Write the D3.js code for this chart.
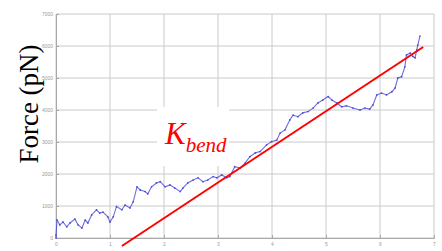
<!DOCTYPE html>
<html>
<head>
<meta charset="utf-8">
<script src="https://cdn.jsdelivr.net/npm/d3@7"></script>
<style>
  body { margin: 0; background: #fff; }
  svg { display: block; }
</style>
</head>
<body>
<div id="chart"></div>
<script>
// Measured trace: time-like x (0..7) and force in pN
var traceX = [0.00, 0.00, 0.02, 0.07, 0.13, 0.20, 0.26, 0.35, 0.41, 0.48, 0.54, 0.59, 0.66, 0.75, 0.81, 0.87, 0.96, 1.00, 1.06, 1.12,
  1.22, 1.28, 1.37, 1.43, 1.50, 1.56, 1.65, 1.70, 1.77, 1.86, 1.93, 2.02, 2.11, 2.20, 2.30, 2.35, 2.44, 2.54, 2.63, 2.72,
  2.81, 2.91, 2.98, 3.07, 3.16, 3.22, 3.31, 3.41, 3.50, 3.59, 3.69, 3.78, 3.90, 3.99, 4.09, 4.15, 4.24, 4.33, 4.39, 4.48,
  4.57, 4.67, 4.76, 4.85, 4.94, 5.04, 5.11, 5.20, 5.29, 5.38, 5.50, 5.63, 5.72, 5.81, 5.87, 5.94, 6.03, 6.12, 6.22, 6.28,
  6.33, 6.40, 6.46, 6.49, 6.56, 6.61, 6.65, 6.68, 6.70, 6.74];
var traceForce = [0, 90, 560, 410, 500, 350, 470, 590, 410, 310, 560, 470, 720, 880, 780, 810, 660, 500, 660, 980,
  880, 1030, 940, 1130, 1600, 1500, 1450, 1380, 1600, 1720, 1760, 1600, 1660, 1560, 1450, 1560, 1720, 1810, 1880, 1760,
  1810, 1920, 1880, 1970, 1880, 1920, 2230, 2190, 2340, 2540, 2660, 2700, 2910, 3010, 3060, 3280, 3380, 3690, 3840, 3790,
  3910, 3950, 4060, 4220, 4310, 4420, 4310, 4220, 4100, 4130, 4060, 4000, 4060, 4030, 4160, 4470, 4530, 4470, 4570, 4690,
  5000, 5040, 5350, 5720, 5780, 5670, 5630, 5880, 6030, 6310];

// Linear fit (K_bend) end points
var fitX = [1.22, 6.80];
var fitForce = [-250, 5970];

var xTicks = [0, 1, 2, 3, 4, 5, 6, 7];
var yTicks = [0, 1000, 2000, 3000, 4000, 5000, 6000, 7000];

var width = 442, height = 251;
var margin = {left: 56, right: 8, top: 14, bottom: 13};

var svg = d3.select('#chart').append('svg')
    .attr('width', width)
    .attr('height', height);

var x = d3.scaleLinear().domain([0, 7]).range([margin.left, width - margin.right]);
var y = d3.scaleLinear().domain([0, 7000]).range([height - margin.bottom, margin.top]);

// grid
svg.append('g')
    .selectAll('line.vg')
    .data(xTicks)
    .enter().append('line')
    .attr('x1', d => x(d)).attr('x2', d => x(d))
    .attr('y1', y(0)).attr('y2', y(7000))
    .attr('stroke', '#cacaca').attr('stroke-width', 1);

svg.append('g')
    .selectAll('line.hg')
    .data(yTicks)
    .enter().append('line')
    .attr('x1', x(0)).attr('x2', x(7))
    .attr('y1', d => y(d)).attr('y2', d => y(d))
    .attr('stroke', '#cacaca').attr('stroke-width', 1);

// axes
var xAxis = svg.append('g')
    .attr('transform', 'translate(0,' + y(0) + ')')
    .call(d3.axisBottom(x).tickValues(xTicks).tickSize(-3).tickPadding(4).tickFormat(d3.format('d')));
var yAxis = svg.append('g')
    .attr('transform', 'translate(' + x(0) + ',0)')
    .call(d3.axisLeft(y).tickValues(yTicks).tickSize(-3).tickPadding(3).tickFormat(d3.format('d')));

[xAxis, yAxis].forEach(function(a) {
    a.select('.domain').attr('stroke', '#a8a8a8');
    a.selectAll('.tick line').attr('stroke', '#a8a8a8');
    a.selectAll('.tick text')
        .attr('fill', '#9a9a9a')
        .style('font-family', 'Liberation Sans, Arial, sans-serif')
        .style('font-size', '5px');
});

// white box behind the label
svg.append('rect')
    .attr('x', 157).attr('y', 107)
    .attr('width', 72).attr('height', 59)
    .attr('fill', '#fff');

// trace
var points = traceX.map((d, i) => [d, traceForce[i]]);
var line = d3.line().x(d => x(d[0])).y(d => y(d[1]));

svg.append('path')
    .datum(points)
    .attr('d', line)
    .attr('fill', 'none')
    .attr('stroke', '#4a4ad6')
    .attr('stroke-width', 1.1)
    .attr('stroke-opacity', 0.8);

svg.append('g')
    .selectAll('circle')
    .data(points)
    .enter().append('circle')
    .attr('cx', d => x(d[0]))
    .attr('cy', d => y(d[1]))
    .attr('r', 0.9)
    .attr('fill', '#3c3cd0')
    .attr('fill-opacity', 0.8);

// fit line
svg.append('line')
    .attr('x1', x(fitX[0])).attr('y1', y(fitForce[0]))
    .attr('x2', x(fitX[1])).attr('y2', y(fitForce[1]))
    .attr('stroke', '#ff0000')
    .attr('stroke-width', 2);

// K_bend label
var k = svg.append('text')
    .attr('x', 165).attr('y', 144)
    .attr('fill', '#ff0000')
    .style('font-family', 'Liberation Serif, Times New Roman, serif')
    .style('font-style', 'italic');
k.append('tspan').style('font-size', '31px').text('K');
k.append('tspan').attr('dy', 8).style('font-size', '21px').text('bend');

// y label
svg.append('text')
    .attr('transform', 'translate(38,104) rotate(-90)')
    .attr('text-anchor', 'middle')
    .attr('fill', '#000')
    .style('font-family', 'Liberation Serif, Times New Roman, serif')
    .style('font-size', '27px')
    .text('Force (pN)');
</script>
</body>
</html>
